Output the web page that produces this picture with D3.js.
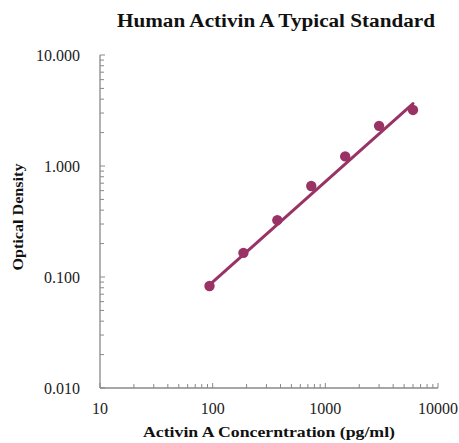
<!DOCTYPE html>
<html><head><meta charset="utf-8">
<script src="https://cdn.jsdelivr.net/npm/d3@7"></script>
<style>body{margin:0;background:#fff}svg{display:block}</style>
</head><body>
<svg id="c" width="459" height="443"></svg>
<script>
const concentrations = [93.75, 187.5, 375, 750, 1500, 3000, 6000];
const opticalDensity = [0.083, 0.165, 0.325, 0.66, 1.22, 2.30, 3.20];
const trendX = [93.75, 6000];
const trendY = [0.085, 3.65];
const xTickValues = [10, 100, 1000, 10000];
const xTickLabels = ["10", "100", "1000", "10000"];
const yTickValues = [0.01, 0.1, 1, 10];
const yTickLabels = ["0.010", "0.100", "1.000", "10.000"];
const title = "Human Activin A Typical Standard";
const xTitle = "Activin A Concerntration (pg/ml)";
const yTitle = "Optical Density";

const svg = d3.select("#c");
const m = {l:100, r:438, t:55, b:388};
const x = d3.scaleLog().domain([10,10000]).range([m.l, m.r]);
const y = d3.scaleLog().domain([0.01,10]).range([m.b, m.t]);
const font = "'Liberation Serif','Times New Roman',serif";
const axisColor = "#898989";
const col = "#993366";

function minorTicks(domain){
  const out=[];
  for(let d=domain[0]; d<domain[1]; d*=10){
    for(let k=2;k<=9;k++) out.push(d*k);
  }
  return out;
}

svg.append("line").attr("x1",m.l).attr("x2",m.r).attr("y1",m.b).attr("y2",m.b)
  .attr("stroke",axisColor).attr("stroke-width",1.3);
svg.append("line").attr("x1",m.l).attr("x2",m.l).attr("y1",m.t).attr("y2",m.b)
  .attr("stroke",axisColor).attr("stroke-width",1.3);

const xt = svg.append("g");
xt.selectAll("line.mj").data(xTickValues).join("line").attr("class","mj")
  .attr("x1",d=>x(d)).attr("x2",d=>x(d)).attr("y1",m.b).attr("y2",m.b-5)
  .attr("stroke",axisColor);
xt.selectAll("line.mn").data(minorTicks([10,10000])).join("line").attr("class","mn")
  .attr("x1",d=>x(d)).attr("x2",d=>x(d)).attr("y1",m.b).attr("y2",m.b-4)
  .attr("stroke",axisColor);
xt.selectAll("text").data(xTickValues).join("text")
  .attr("x",d=>x(d)).attr("y",m.b+26).attr("text-anchor","middle")
  .attr("font-family",font).attr("font-size",16).attr("fill","#222")
  .text((d,i)=>xTickLabels[i]);

const yt = svg.append("g");
yt.selectAll("line.mj").data(yTickValues).join("line").attr("class","mj")
  .attr("x1",m.l).attr("x2",m.l+5).attr("y1",d=>y(d)).attr("y2",d=>y(d))
  .attr("stroke",axisColor);
yt.selectAll("line.mn").data(minorTicks([0.01,10])).join("line").attr("class","mn")
  .attr("x1",m.l).attr("x2",m.l+4).attr("y1",d=>y(d)).attr("y2",d=>y(d))
  .attr("stroke",axisColor);
yt.selectAll("text").data(yTickValues).join("text")
  .attr("x",m.l-20).attr("y",d=>y(d)+5.5).attr("text-anchor","end")
  .attr("font-family",font).attr("font-size",16).attr("fill","#222")
  .text((d,i)=>yTickLabels[i]);

svg.append("line")
  .attr("x1",x(trendX[0])).attr("y1",y(trendY[0]))
  .attr("x2",x(trendX[1])).attr("y2",y(trendY[1]))
  .attr("stroke",col).attr("stroke-width",3).attr("stroke-linecap","round");

svg.selectAll("circle").data(concentrations).join("circle")
  .attr("cx",d=>x(d)).attr("cy",(d,i)=>y(opticalDensity[i])).attr("r",5.2)
  .attr("fill",col);

svg.append("text").attr("x",276).attr("y",27).attr("text-anchor","middle")
  .attr("font-family",font).attr("font-weight","bold").attr("font-size",18).attr("fill","#111")
  .attr("textLength",318).attr("lengthAdjust","spacingAndGlyphs")
  .text(title);
svg.append("text").attr("x",269).attr("y",437).attr("text-anchor","middle")
  .attr("font-family",font).attr("font-weight","bold").attr("font-size",15.5).attr("fill","#111")
  .attr("textLength",252).attr("lengthAdjust","spacingAndGlyphs")
  .text(xTitle);
svg.append("text").attr("transform","translate(23,217) rotate(-90)").attr("text-anchor","middle")
  .attr("font-family",font).attr("font-weight","bold").attr("font-size",15).attr("fill","#111")
  .attr("textLength",107).attr("lengthAdjust","spacingAndGlyphs")
  .text(yTitle);
</script>
</body></html>
